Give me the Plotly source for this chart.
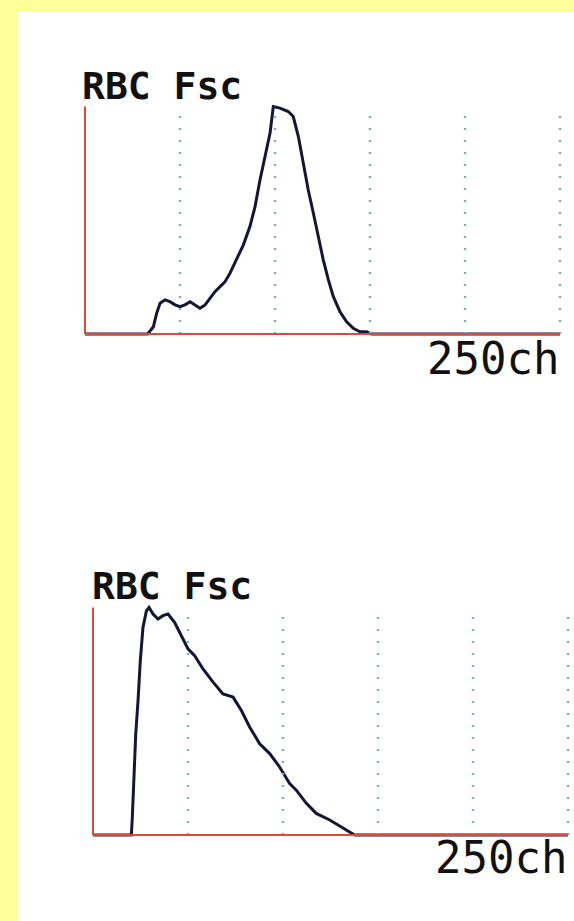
import plotly.graph_objects as go

W, H = 574, 921

# ---- data (channel 0-250, relative count 0-100) ----
top_ch = [0, 33, 36.0, 37.7, 39.5, 42.1, 44.7, 47.4, 50, 52.6, 55.3, 57.9, 60.5, 63.2,
          65.8, 68.4, 71.1, 73.7, 76.3, 79.8, 83.3, 86.8, 89.5, 92.1, 94.7, 97.4, 99.1,
          102.6, 107.0, 109.6, 112.3, 114.9, 117.5, 120.2, 122.8, 125.4, 128.1, 130.7,
          134.2, 137.7, 141.2, 144.7, 148.2, 150.9, 250]
top_count = [0, 0, 3.2, 9.1, 13.5, 15.0, 14.2, 12.8, 12.0, 12.8, 14.2, 12.8, 11.3, 12.8,
             15.7, 18.6, 20.8, 23.0, 26.7, 32.6, 39.1, 47.2, 56.0, 67.7, 78.0, 88.3, 100,
             99.3, 97.8, 95.6, 86.8, 75.1, 63.3, 53.1, 42.8, 32.6, 23.8, 16.4,
             9.8, 5.4, 2.5, 1.0, 1.0, 0, 0]

bot_ch = [0, 20.2, 20.7, 21.4, 22.5, 23.7, 24.9, 26.3, 28.1, 29.5, 31.6, 34.2, 36.8, 39.5,
          43.0, 46.5, 50.0, 53.5, 57.9, 63.2, 68.4, 73.7, 78.1, 82.5, 87.7, 93.0, 98.2,
          103.5, 107.0, 112.3, 117.5, 124.6, 130.7, 136.0, 137.7, 250]
bot_count = [0, 0, 8.0, 24.1, 44.5, 59.1, 76.6, 91.2, 98.5, 100, 97.1, 94.9, 96.4, 97.1,
             93.4, 87.6, 81.8, 78.8, 73.0, 67.2, 62.0, 60.6, 54.7, 47.4, 40.1, 35.8, 29.9,
             22.6, 19.7, 13.9, 9.5, 6.6, 3.6, 0.7, 0, 0]

grid_ch = [50, 100, 150, 200, 250]
title_text = "RBC Fsc"
scale_text = "250ch"

# ---- styling ----
YELLOW = "#ffff99"
RED = "#dd4a35"
CURVE = "#15153a"
GRID = "#6fb3c4"
FONT = "DejaVu Sans Mono"

PX_PER_CH = 1.9
PX_PER_CNT = 2.275
PAD_CH, PAD_CNT = 3, 4

def domains(x0_px, y0_px):
    left = x0_px - PAD_CH * PX_PER_CH
    right = x0_px + (250 + PAD_CH) * PX_PER_CH
    bottom = y0_px + PAD_CNT * PX_PER_CNT
    top = y0_px - (100 + PAD_CNT) * PX_PER_CNT
    return [left / W, min(right / W, 1)], [1 - bottom / H, 1 - top / H]

panels = [
    dict(x0=85, y0=334, ch=top_ch, cnt=top_count, ax="", title_xy=(80, 86), scale_xy=(561, 359)),
    dict(x0=93, y0=835, ch=bot_ch, cnt=bot_count, ax="2", title_xy=(90, 586), scale_xy=(569, 857)),
]

fig = go.Figure()
shapes = [dict(type="rect", xref="paper", yref="paper", x0=17 / W, x1=1, y0=0, y1=1 - 12 / H,
               fillcolor="white", line=dict(width=0), layer="below")]
annotations = []

for p in panels:
    xd, yd = domains(p["x0"], p["y0"])
    xa, ya = "x" + p["ax"], "y" + p["ax"]
    fig.update_layout(**{
        "xaxis" + p["ax"]: dict(domain=xd, range=[-PAD_CH, 250 + PAD_CH], visible=False,
                                anchor=ya),
        "yaxis" + p["ax"]: dict(domain=yd, range=[-PAD_CNT, 100 + PAD_CNT], visible=False,
                                anchor=xa),
    })
    for g in grid_ch:
        shapes.append(dict(type="line", xref=xa, yref=ya, x0=g, x1=g, y0=0, y1=100,
                           line=dict(color=GRID, width=2.4, dash="2px,10px")))
    shapes.append(dict(type="line", xref=xa, yref=ya, x0=0, x1=0, y0=0, y1=100,
                       line=dict(color=RED, width=2)))
    shapes.append(dict(type="line", xref=xa, yref=ya, x0=0, x1=250, y0=0, y1=0,
                       line=dict(color=RED, width=2)))
    fig.add_trace(go.Scatter(x=p["ch"], y=p["cnt"], mode="lines", xaxis=xa, yaxis=ya,
                             line=dict(color=CURVE, width=3), showlegend=False,
                             hoverinfo="skip"))
    tx, ty = p["title_xy"]
    annotations.append(dict(text="<b>" + title_text + "</b>", xref="paper", yref="paper",
                            x=tx / W, y=1 - ty / H,
                            xanchor="left", yanchor="middle", showarrow=False,
                            font=dict(family=FONT, size=38, color="#111111")))
    sx, sy = p["scale_xy"]
    annotations.append(dict(text=scale_text, xref="paper", yref="paper", x=sx / W, y=1 - sy / H,
                            xanchor="right", yanchor="middle", showarrow=False,
                            font=dict(family=FONT, size=44, color="#111111")))

fig.update_layout(width=W, height=H, margin=dict(l=0, r=0, t=0, b=0),
                  paper_bgcolor=YELLOW, plot_bgcolor="rgba(0,0,0,0)",
                  shapes=shapes, annotations=annotations)

fig.write_html("out.html", config={"displayModeBar": False},
               post_script="document.body.style.margin='0';")
